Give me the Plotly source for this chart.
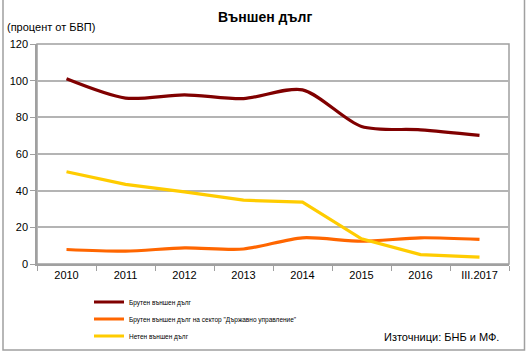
import plotly.graph_objects as go

categories = ["2010", "2011", "2012", "2013", "2014", "2015", "2016", "III.2017"]
gross_external_debt = [101.0, 90.5, 92.3, 90.2, 95.0, 75.0, 73.2, 70.2]
gov_sector_debt = [7.9, 7.0, 8.8, 8.2, 14.3, 12.4, 14.3, 13.4]
net_external_debt = [50.3, 43.4, 39.3, 34.8, 33.8, 13.7, 5.1, 3.7]

names = [
    "Брутен външен дълг",
    "Брутен външен дълг на сектор \"Държавно управление\"",
    "Нетен външен дълг",
]
y_ticks = [0, 20, 40, 60, 80, 100, 120]

W, H = 527, 356
L, R, T, B = 37, 18, 44, 92
pw, ph = W - L - R, H - T - B

def px(x):
    return (x - L) / pw

def py(y):
    return (H - B - y) / ph

fig = go.Figure()
fig.add_trace(go.Scatter(x=categories, y=gross_external_debt, name=names[0], mode="lines",
                         legend="legend",
                         line=dict(color="#800000", width=3.2, shape="spline", smoothing=0.8)))
fig.add_trace(go.Scatter(x=categories, y=gov_sector_debt, name=names[1], mode="lines",
                         legend="legend2",
                         line=dict(color="#FF6600", width=3.2, shape="spline", smoothing=0.8)))
fig.add_trace(go.Scatter(x=categories, y=net_external_debt, name=names[2], mode="lines",
                         legend="legend3",
                         line=dict(color="#FFCC00", width=3.2)))

def leg(yc):
    return dict(x=px(89), y=py(yc), xanchor="left", yanchor="middle",
                font=dict(size=6.5, color="black"), bgcolor="rgba(0,0,0,0)",
                itemwidth=30)

fig.update_layout(
    width=W, height=H,
    margin=dict(l=L, r=R, t=T, b=B, autoexpand=False),
    paper_bgcolor="white", plot_bgcolor="white",
    font=dict(family="Liberation Sans, Arial", color="black", size=11),
    showlegend=True,
    legend=leg(302), legend2=leg(319), legend3=leg(336),
    xaxis=dict(type="category", range=[-0.5, len(categories) - 0.5], automargin=False,
               showgrid=False, showline=True, linecolor="#a0a0a0", linewidth=1.5,
               ticks="outside", tickson="boundaries", ticklen=5, tickcolor="#a0a0a0",
               tickfont=dict(size=11), mirror=False),
    yaxis=dict(range=[0, 120], tickvals=y_ticks, showgrid=True, gridcolor="#b4b4b4",
               gridwidth=1.5, showline=True, linecolor="#a0a0a0", linewidth=1.5, automargin=False,
               ticks="outside", ticklen=5, tickcolor="#a0a0a0", zeroline=False,
               tickfont=dict(size=11)),
    shapes=[
        dict(type="rect", xref="paper", yref="paper", x0=0, x1=1, y0=0, y1=1,
             line=dict(color="#a0a0a0", width=1.5), layer="below"),
        dict(type="rect", xref="paper", yref="paper", x0=px(3), x1=px(524.5), y0=py(350), y1=py(-5),
             line=dict(color="#a0a0a0", width=1.5)),
    ],
    annotations=[
        dict(text="<b>Външен дълг</b>", xref="paper", yref="paper", x=px(265), y=py(17),
             xanchor="center", yanchor="middle", showarrow=False, font=dict(size=14)),
        dict(text="(процент от БВП)", xref="paper", yref="paper", x=px(5), y=py(27),
             xanchor="left", yanchor="middle", showarrow=False, font=dict(size=11)),
        dict(text="Източници: БНБ и МФ.", xref="paper", yref="paper", x=px(501), y=py(337),
             xanchor="right", yanchor="middle", showarrow=False, font=dict(size=11)),
    ],
)

fig.write_html("out.html", config={"displayModeBar": False},
               post_script="document.body.style.margin='0';document.body.style.overflow='hidden';")
